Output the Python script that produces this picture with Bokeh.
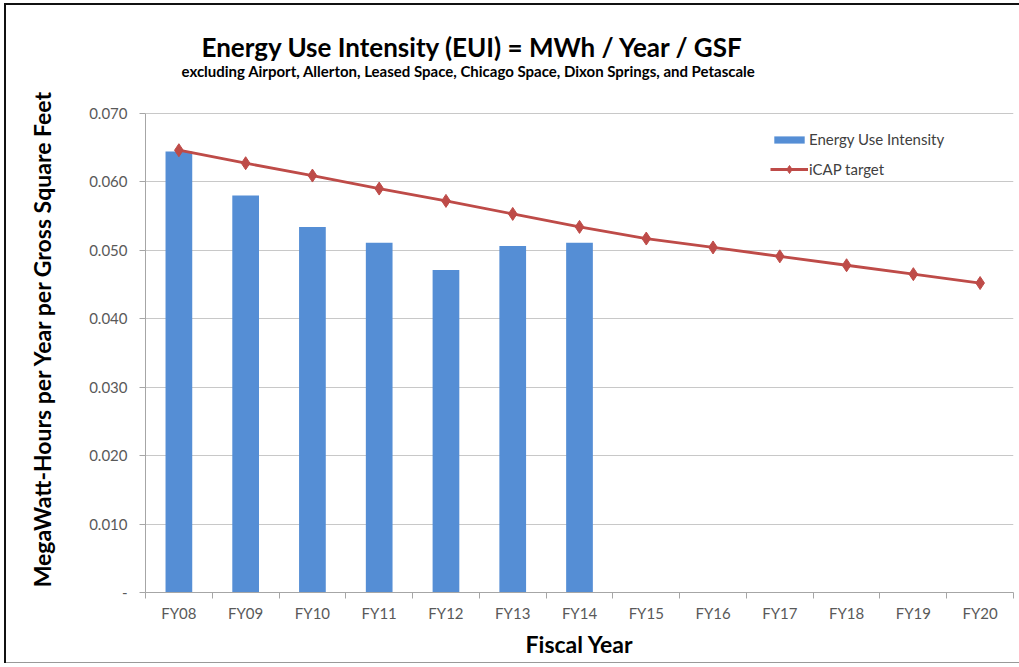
from bokeh.plotting import figure
from bokeh.models import (FixedTicker, Title, Legend, LegendItem, Range1d)
from bokeh.embed import file_html
from bokeh.resources import INLINE

# ---- data ----
years = ["FY08", "FY09", "FY10", "FY11", "FY12", "FY13", "FY14",
         "FY15", "FY16", "FY17", "FY18", "FY19", "FY20"]
eui = [0.0644, 0.0580, 0.0534, 0.0511, 0.0471, 0.0506, 0.0511]
icap_target = [0.0646, 0.0627, 0.0609, 0.0590, 0.0572, 0.0553, 0.0534,
               0.0517, 0.0504, 0.0491, 0.0478, 0.0465, 0.0452]
y_ticks = [0, 0.01, 0.02, 0.03, 0.04, 0.05, 0.06, 0.07]
y_tick_labels = ["-", "0.010", "0.020", "0.030", "0.040", "0.050", "0.060", "0.070"]

title_text = "Energy Use Intensity (EUI) = MWh / Year / GSF"
subtitle_text = ("excluding Airport, Allerton, Leased Space, Chicago Space, "
                 "Dixon Springs, and Petascale")

# category centres and boundaries on a numeric axis
xc = [i + 0.5 for i in range(len(years))]
xb = list(range(len(years) + 1))

FONT = "Lato"
GRID = "#C8C8C8"
AXIS = "#A6A6A6"
TICK_TXT = "#595959"

p = figure(width=1019, height=665, output_backend="svg", toolbar_location=None,
           x_range=Range1d(0, len(years)), y_range=Range1d(0, 0.0742),
           min_border_left=145, min_border_right=6, min_border_top=84,
           min_border_bottom=73, background_fill_color="white",
           border_fill_color=None)
p.outline_line_color = None
p.styles = {"box-shadow": ("inset 4px 3px 0 0 #ffffff, inset 0 -2px 0 0 #ffffff, "
                           "inset 6px 5px 0 0 #111111, inset 0 -3px 0 0 #999999")}

# titles: main title on top, subtitle next to the plot area
p.title.text = title_text
p.title.text_font = FONT
p.title.text_font_size = "26px"
p.title.text_font_style = "bold"
p.title.text_color = "black"
p.title.align = "left"
p.title.offset = 56
p.title.standoff = -16
sub = Title(text=subtitle_text, text_font=FONT, text_font_size="15px",
            text_font_style="bold", text_color="black", align="left",
            offset=36, standoff=10)
p.add_layout(sub, "above")

# glyphs
bars = p.vbar(x=xc[:len(eui)], top=eui, width=0.40, color="#558ED5", line_color=None)
line = p.line(x=xc, y=icap_target, line_color="#BE4B48", line_width=2.8)
marks = p.scatter(x=xc, y=icap_target, marker="diamond", size=13,
                  fill_color="#BE4B48", line_color="#BE4B48")

# grid
p.xgrid.grid_line_color = None
p.ygrid.grid_line_color = GRID
p.ygrid.grid_line_width = 1

# y axis
ya = p.yaxis[0]
ya.ticker = FixedTicker(ticks=y_ticks)
ya.bounds = (y_ticks[0], y_ticks[-1])
ya.major_label_overrides = dict(zip(y_ticks, y_tick_labels))
ya.minor_tick_line_color = None
ya.major_tick_in = 0
ya.major_tick_out = 6
ya.major_tick_line_color = AXIS
ya.axis_line_color = AXIS
ya.major_label_text_font = FONT
ya.major_label_text_font_size = "15px"
ya.major_label_text_color = TICK_TXT
ya.major_label_standoff = 12
ya.axis_label = "MegaWatt-Hours per Year per Gross Square Feet"
ya.axis_label_text_font = FONT
ya.axis_label_text_font_size = "23px"
ya.axis_label_text_font_style = "bold"
ya.axis_label_text_color = "black"
ya.axis_label_standoff = 30

# x axis
xa = p.xaxis[0]
xa.ticker = FixedTicker(ticks=xc, minor_ticks=xb)
xa.major_label_overrides = dict(zip(xc, years))
xa.major_tick_line_color = None
xa.major_tick_in = 0
xa.major_tick_out = 0
xa.minor_tick_line_color = AXIS
xa.minor_tick_in = 0
xa.minor_tick_out = 6
xa.axis_line_color = AXIS
xa.major_label_text_font = FONT
xa.major_label_text_font_size = "15px"
xa.major_label_text_color = TICK_TXT
xa.major_label_standoff = 5
xa.axis_label = "Fiscal Year"
xa.axis_label_text_font = FONT
xa.axis_label_text_font_size = "23px"
xa.axis_label_text_font_style = "bold"
xa.axis_label_text_color = "black"
xa.axis_label_standoff = 5

legend_style = dict(orientation="vertical", glyph_width=38, label_standoff=1,
                    padding=0, margin=0, border_line_color=None,
                    background_fill_alpha=0, label_text_font=FONT,
                    label_text_font_size="15px", label_text_color="#404040")
legend_bar = Legend(items=[LegendItem(label="Energy Use Intensity", renderers=[bars])],
                    location=(625, 444), glyph_height=9, label_height=9,
                    **legend_style)
legend_line = Legend(items=[LegendItem(label="iCAP target", renderers=[line, marks])],
                     location=(625, 413), glyph_height=20, label_height=20,
                     **legend_style)
p.add_layout(legend_bar, "center")
p.add_layout(legend_line, "center")

open("out.html", "w").write(file_html(p, INLINE))
